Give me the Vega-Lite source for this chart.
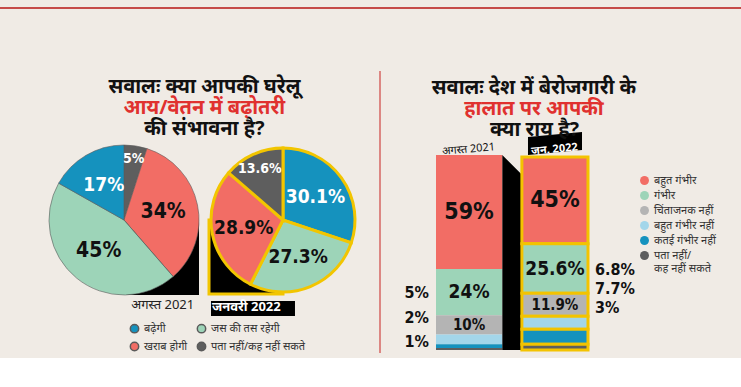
{
  "$schema": "https://vega.github.io/schema/vega-lite/v6.json",
  "background": "#f0ebe5",
  "padding": {"left": 0, "top": 2, "right": 0, "bottom": 0},
  "config": {"view": {"stroke": null}, "font": "Noto Sans"},
  "datasets": {
    "pie1": [
      {"cat": "पता नहीं/कह नहीं सकते", "value": 5, "o": 1},
      {"cat": "खराब होगी", "value": 34, "o": 2},
      {"cat": "जस की तस रहेगी", "value": 45, "o": 3},
      {"cat": "बढ़ेगी", "value": 17, "o": 4}
    ],
    "pie2": [
      {"cat": "बढ़ेगी", "value": 30.1, "o": 1},
      {"cat": "जस की तस रहेगी", "value": 27.3, "o": 2},
      {"cat": "खराब होगी", "value": 28.9, "o": 3},
      {"cat": "पता नहीं/कह नहीं सकते", "value": 13.6, "o": 4}
    ],
    "bars": [
      {"period": "अगस्त 2021", "cat": "बहुत गंभीर", "value": 59, "o": 1},
      {"period": "अगस्त 2021", "cat": "गंभीर", "value": 24, "o": 2},
      {"period": "अगस्त 2021", "cat": "चिंताजनक नहीं", "value": 10, "o": 3},
      {"period": "अगस्त 2021", "cat": "बहुत गंभीर नहीं", "value": 5, "o": 4},
      {"period": "अगस्त 2021", "cat": "कतई गंभीर नहीं", "value": 2, "o": 5},
      {"period": "अगस्त 2021", "cat": "पता नहीं/कह नहीं सकते", "value": 1, "o": 6},
      {"period": "जन. 2022", "cat": "बहुत गंभीर", "value": 45, "o": 1},
      {"period": "जन. 2022", "cat": "गंभीर", "value": 25.6, "o": 2},
      {"period": "जन. 2022", "cat": "चिंताजनक नहीं", "value": 11.9, "o": 3},
      {"period": "जन. 2022", "cat": "बहुत गंभीर नहीं", "value": 6.8, "o": 4},
      {"period": "जन. 2022", "cat": "कतई गंभीर नहीं", "value": 7.7, "o": 5},
      {"period": "जन. 2022", "cat": "पता नहीं/कह नहीं सकते", "value": 3, "o": 6}
    ]
  },
  "spacing": 52,
  "vconcat": [
    {
      "width": 741, "height": 2,
      "view": {"fill": "#c64b48", "stroke": null},
      "data": {"values": [{}]},
      "mark": {"type": "text", "text": ""},
      "encoding": {}
    },
    {
      "spacing": 23,
      "resolve": {"scale": {"color": "independent"}, "legend": {"color": "independent"}},
      "hconcat": [
        {
          "spacing": 18,
          "hconcat": [
            {
              "spacing": 46,
              "hconcat": [
                {
                  "width": 1, "height": 1,
                  "data": {"values": [{}]},
                  "mark": {"type": "text", "text": ""},
                  "encoding": {}
                },
                {
                  "spacing": 0,
                  "vconcat": [
                    {
                      "width": 1, "height": 1,
                      "data": {"values": [{}]},
                      "mark": {"type": "text", "text": ""},
                      "encoding": {}
                    },
                    {
                      "title": {
                        "text": "सवालः क्या आपकी घरेलू",
                        "subtitle": "आय/वेतन में बढ़ोतरी",
                        "anchor": "middle",
                        "fontSize": 20, "fontWeight": "bold", "color": "#111",
                        "subtitleFontSize": 20, "subtitleFontWeight": "bold", "subtitleColor": "#e0312f",
                        "subtitlePadding": 1, "offset": 1
                      },
                      "resolve": {"scale": {"color": "independent"}, "legend": {"color": "independent"}},
                      "vconcat": [
                        {
                          "title": {
                            "text": "की संभावना है?",
                            "anchor": "middle",
                            "fontSize": 20, "fontWeight": "bold", "color": "#111",
                            "offset": 3
                          },
                          "spacing": 2,
                          "hconcat": [
                            {
                              "width": 150, "height": 150,
                              "data": {"name": "pie1"},
                              "transform": [{"calculate": "datum.value + '%'", "as": "lbl"}],
                              "title": {"text": "अगस्त 2021", "orient": "bottom", "anchor": "end", "fontSize": 13, "fontWeight": "normal", "color": "#222", "offset": 3, "dx": -6},
                              "layer": [
                                {
                                  "data": {"values": [{}]},
                                  "mark": {"type": "point", "shape": "M0,0H1V1H0Z", "size": 22500, "filled": true, "color": "#000", "opacity": 1, "strokeWidth": 0},
                                  "encoding": {}
                                },
                                {
                                  "mark": {"type": "arc", "outerRadius": 75, "stroke": "#5a5a5a", "strokeWidth": 0.6},
                                  "encoding": {
                                    "theta": {"field": "value", "type": "quantitative", "stack": true},
                                    "order": {"field": "o", "type": "quantitative"},
                                    "color": {
                                      "field": "cat", "type": "nominal",
                                      "scale": {"domain": ["बढ़ेगी", "जस की तस रहेगी", "खराब होगी", "पता नहीं/कह नहीं सकते"], "range": ["#1592be", "#9dd4b8", "#f26d65", "#5e5e5e"]},
                                      "legend": {"orient": "none", "legendX": 80, "legendY": 178, "columns": 2, "title": null, "symbolType": "circle", "symbolSize": 70, "labelFontSize": 11, "labelColor": "#333", "columnPadding": 6, "rowPadding": 3, "direction": "horizontal"}
                                    }
                                  }
                                },
                                {
                                  "mark": {"type": "text", "radius": 40, "font": "DejaVu Sans Condensed", "fontWeight": "bold"},
                                  "encoding": {
                                    "theta": {"field": "value", "type": "quantitative", "stack": true},
                                    "order": {"field": "o", "type": "quantitative"},
                                    "text": {"condition": {"test": "datum.value >= 10", "field": "lbl"}, "value": ""},
                                    "color": {"condition": {"test": "datum.cat == 'बढ़ेगी' || datum.cat == 'पता नहीं/कह नहीं सकते'", "value": "white"}, "value": "#111"},
                                    "size": {"condition": {"test": "datum.value >= 30", "value": 21}, "value": 19}
                                  }
                                },
                                {
                                  "mark": {"type": "text", "radius": 62, "font": "DejaVu Sans Condensed", "fontWeight": "bold", "fontSize": 14},
                                  "encoding": {
                                    "theta": {"field": "value", "type": "quantitative", "stack": true},
                                    "order": {"field": "o", "type": "quantitative"},
                                    "text": {"condition": {"test": "datum.value < 10", "field": "lbl"}, "value": ""},
                                    "color": {"condition": {"test": "datum.cat == 'बढ़ेगी' || datum.cat == 'पता नहीं/कह नहीं सकते'", "value": "white"}, "value": "#111"}
                                  }
                                }
                              ]
                            },
                            {
                              "width": 150, "height": 150,
                              "data": {"name": "pie2"},
                              "transform": [{"calculate": "datum.value + '%'", "as": "lbl"}],
                              "title": {"text": "जनवरी 2022", "orient": "bottom", "anchor": "start", "fontSize": 13, "fontWeight": "bold", "color": "#ffffff", "offset": -15, "dx": 9},
                              "layer": [
                                {
                                  "data": {"values": [{}]},
                                  "mark": {"type": "point", "shape": "M-0.973,1.095H0.162V1.297H-0.973Z", "size": 21904, "filled": true, "color": "#000", "opacity": 1, "strokeWidth": 0},
                                  "encoding": {}
                                },
                                {
                                  "data": {"values": [{}]},
                                  "mark": {"type": "point", "shape": "M0,0H-1V1H0Z", "size": 21904, "filled": true, "color": "#000", "opacity": 1, "stroke": "#f2c500", "strokeWidth": 3},
                                  "encoding": {}
                                },
                                {
                                  "mark": {"type": "arc", "outerRadius": 72, "stroke": "#f2c500", "strokeWidth": 3},
                                  "encoding": {
                                    "theta": {"field": "value", "type": "quantitative", "stack": true},
                                    "order": {"field": "o", "type": "quantitative"},
                                    "color": {"field": "cat", "type": "nominal"}
                                  }
                                },
                                {
                                  "mark": {"type": "text", "radius": 40, "font": "DejaVu Sans Condensed", "fontWeight": "bold", "fontSize": 19},
                                  "encoding": {
                                    "theta": {"field": "value", "type": "quantitative", "stack": true},
                                    "order": {"field": "o", "type": "quantitative"},
                                    "text": {"condition": {"test": "datum.value >= 20", "field": "lbl"}, "value": ""},
                                    "color": {"condition": {"test": "datum.cat == 'बढ़ेगी' || datum.cat == 'पता नहीं/कह नहीं सकते'", "value": "white"}, "value": "#111"}
                                  }
                                },
                                {
                                  "mark": {"type": "text", "radius": 56, "font": "DejaVu Sans Condensed", "fontWeight": "bold", "fontSize": 14},
                                  "encoding": {
                                    "theta": {"field": "value", "type": "quantitative", "stack": true},
                                    "order": {"field": "o", "type": "quantitative"},
                                    "text": {"condition": {"test": "datum.value < 20", "field": "lbl"}, "value": ""},
                                    "color": {"condition": {"test": "datum.cat == 'बढ़ेगी' || datum.cat == 'पता नहीं/कह नहीं सकते'", "value": "white"}, "value": "#111"}
                                  }
                                }
                              ]
                            }
                          ]
                        }
                      ]
                    }
                  ]
                }
              ]
            },
            {
              "width": 2, "height": 282,
              "view": {"fill": "#dc8783", "stroke": null},
              "data": {"values": [{}]},
              "mark": {"type": "text", "text": ""},
              "encoding": {}
            }
          ]
        },
        {
          "spacing": 0,
          "vconcat": [
            {
              "width": 1, "height": 1,
              "data": {"values": [{}]},
              "mark": {"type": "text", "text": ""},
              "encoding": {}
            },
            {
              "width": 152, "height": 195,
              "data": {"name": "bars"},
              "transform": [{"calculate": "datum.value + '%'", "as": "lbl"}],
              "title": {
                "text": "सवालः देश में बेरोजगारी के",
                "subtitle": "हालात पर आपकी",
                "anchor": "middle", "dx": 22,
                "fontSize": 20, "fontWeight": "bold", "color": "#111",
                "subtitleFontSize": 20, "subtitleFontWeight": "bold", "subtitleColor": "#e0312f",
                "subtitlePadding": 1, "offset": 1
              },
              "resolve": {"scale": {"y": "independent"}},
              "layer": [
                {
                  "data": {"values": [{}]},
                  "mark": {"type": "point", "shape": "M-0.1,-1L0.1,-0.8V1H-0.1Z M0.164,-1.185L0.718,-1.235L0.718,-1.051L0.164,-1.0Z", "size": 38025, "filled": true, "color": "#000", "opacity": 1, "strokeWidth": 0},
                  "encoding": {}
                },
                {
                  "layer": [
                    {
                      "mark": {"type": "bar", "stroke": "#f3c300"},
                      "encoding": {
                        "x": {
                          "field": "period", "type": "nominal", "sort": ["अगस्त 2021", "जन. 2022"],
                          "scale": {"paddingInner": 0.23, "paddingOuter": 0},
                          "axis": {
                            "orient": "top", "zindex": 2, "title": "क्या राय है?", "titleFontSize": 20, "titleFontWeight": "bold", "titleColor": "#111", "titlePadding": 1, "titleX": 98,
                            "labelAngle": -5, "labelAlign": "center", "labelFontSize": 11,
                            "labelColor": {"condition": {"test": "datum.value == 'जन. 2022'", "value": "#ffffff"}, "value": "#111"},
                            "labelFontWeight": {"condition": {"test": "datum.value == 'जन. 2022'", "value": "bold"}, "value": "normal"},
                            "domain": false, "ticks": false, "labelPadding": 1
                          }
                        },
                        "y": {"field": "value", "type": "quantitative", "stack": "zero", "scale": {"domain": [0, 101], "nice": false}, "axis": null},
                        "order": {"field": "o", "type": "quantitative", "sort": "descending"},
                        "color": {
                          "field": "cat", "type": "nominal",
                          "scale": {"domain": ["बहुत गंभीर", "गंभीर", "चिंताजनक नहीं", "बहुत गंभीर नहीं", "कतई गंभीर नहीं", "पता नहीं/कह नहीं सकते"], "range": ["#f26d65", "#9dd4b8", "#b4b4b4", "#a3d6ea", "#1592be", "#5e5e5e"]},
                          "legend": {
                            "orient": "none", "legendX": 203, "legendY": 104, "title": null, "symbolType": "circle", "symbolSize": 80, "symbolStrokeWidth": 0,
                            "labelFontSize": 11, "labelColor": "#333", "rowPadding": 3, "labelLimit": 200,
                            "labelExpr": "datum.label == 'पता नहीं/कह नहीं सकते' ? ['पता नहीं/', 'कह नहीं सकते'] : datum.label"
                          }
                        },
                        "strokeWidth": {"condition": {"test": "datum.period == 'जन. 2022'", "value": 3}, "value": 0}
                      }
                    },
                    {
                      "mark": {"type": "text", "font": "DejaVu Sans Condensed", "fontWeight": "bold", "color": "#111", "baseline": "middle"},
                      "encoding": {
                        "x": {"field": "period", "type": "nominal", "sort": ["अगस्त 2021", "जन. 2022"]},
                        "y": {"field": "value", "type": "quantitative", "stack": "zero", "bandPosition": 0.5},
                        "order": {"field": "o", "type": "quantitative", "sort": "descending"},
                        "text": {"condition": {"test": "datum.value >= 9", "field": "lbl"}, "value": ""},
                        "size": {"condition": [{"test": "datum.value >= 40", "value": 23}, {"test": "datum.value >= 20", "value": 19}], "value": 15}
                      }
                    }
                  ]
                },
                {
                  "transform": [{"filter": "datum.period == 'अगस्त 2021' && datum.value < 9"}],
                  "mark": {"type": "text", "align": "right", "dx": -7, "baseline": "middle", "font": "DejaVu Sans Condensed", "fontWeight": "bold", "fontSize": 16, "color": "#111"},
                  "encoding": {
                    "x": {"field": "period", "type": "nominal", "sort": ["अगस्त 2021", "जन. 2022"], "bandPosition": 0},
                    "y": {"field": "cat", "type": "nominal", "scale": {"domain": ["बहुत गंभीर नहीं", "कतई गंभीर नहीं", "पता नहीं/कह नहीं सकते"], "range": [138, 187], "padding": 0}, "axis": null},
                    "text": {"field": "lbl"}
                  }
                },
                {
                  "transform": [{"filter": "datum.period == 'जन. 2022' && datum.value < 9"}],
                  "mark": {"type": "text", "align": "left", "dx": 7, "baseline": "middle", "font": "DejaVu Sans Condensed", "fontWeight": "bold", "fontSize": 16, "color": "#111"},
                  "encoding": {
                    "x": {"field": "period", "type": "nominal", "sort": ["अगस्त 2021", "जन. 2022"], "bandPosition": 1},
                    "y": {"field": "cat", "type": "nominal", "scale": {"domain": ["बहुत गंभीर नहीं", "कतई गंभीर नहीं", "पता नहीं/कह नहीं सकते"], "range": [115, 153], "padding": 0}, "axis": null},
                    "text": {"field": "lbl"}
                  }
                }
              ]
            }
          ]
        }
      ]
    }
  ]
}
